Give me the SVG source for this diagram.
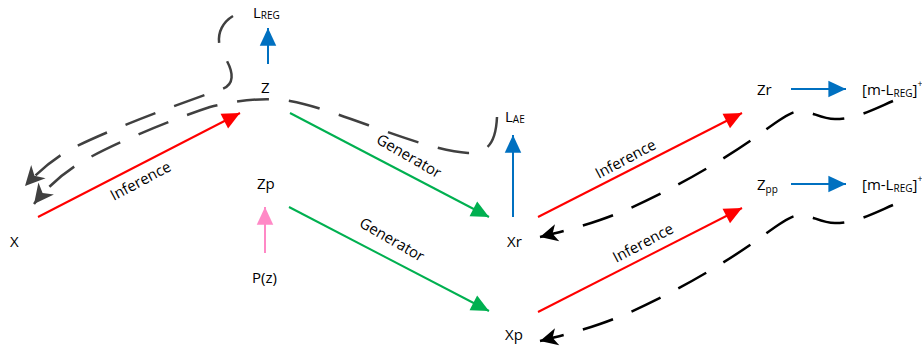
<svg xmlns="http://www.w3.org/2000/svg" width="922" height="352" viewBox="0 0 922 352">
<style>
text{font-family:"Open Sans","Liberation Sans",sans-serif;font-size:15px;fill:#000}
.sub{font-size:10px}
.ln{fill:none;stroke-width:2}
.red{stroke:#FF0000}
.grn{stroke:#00B050}
.blu{stroke:#0070C0}
.pnk{stroke:#FF89C6}
.dg{fill:none;stroke:#404040;stroke-width:2.5;stroke-dasharray:32 20}
.dk{fill:none;stroke:#000;stroke-width:2.5;stroke-dasharray:32 20}
</style>
<defs>
<marker id="hr" markerUnits="userSpaceOnUse" markerWidth="20" markerHeight="20" viewBox="-16 -8 17 16" refX="0" refY="0" orient="auto"><path d="M0,0 L-15,-7 L-15,7 Z" fill="#FF0000"/></marker>
<marker id="hg" markerUnits="userSpaceOnUse" markerWidth="20" markerHeight="20" viewBox="-16 -8 17 16" refX="0" refY="0" orient="auto"><path d="M0,0 L-15,-7 L-15,7 Z" fill="#00B050"/></marker>
<marker id="hb" markerUnits="userSpaceOnUse" markerWidth="20" markerHeight="20" viewBox="-16 -8 17 16" refX="0" refY="0" orient="auto"><path d="M0,0 L-15,-7 L-15,7 Z" fill="#0070C0"/></marker>
<marker id="hp" markerUnits="userSpaceOnUse" markerWidth="20" markerHeight="20" viewBox="-16 -8 17 16" refX="0" refY="0" orient="auto"><path d="M0,0 L-15,-7 L-15,7 Z" fill="#FF89C6"/></marker>
<marker id="sg" markerUnits="userSpaceOnUse" markerWidth="22" markerHeight="22" viewBox="-18 -9 19 18" refX="0" refY="0" orient="auto"><path d="M0,0 L-17,-8.5 L-12,0 L-17,8.5 Z" fill="#404040"/></marker>
<marker id="sk" markerUnits="userSpaceOnUse" markerWidth="20" markerHeight="20" viewBox="-16 -8 17 16" refX="0" refY="0" orient="auto"><path d="M0,0 L-15,-7.5 L-11,0 L-15,7.5 Z" fill="#000"/></marker>
</defs>

<g id="connectors">
<line class="ln red" x1="38" y1="217" x2="240" y2="113" marker-end="url(#hr)"/>
<line class="ln red" x1="538" y1="217" x2="742" y2="113" marker-end="url(#hr)"/>
<line class="ln red" x1="538" y1="312" x2="742" y2="208" marker-end="url(#hr)"/>
<line class="ln grn" x1="290" y1="113" x2="489" y2="217" marker-end="url(#hg)"/>
<line class="ln grn" x1="289" y1="207" x2="489" y2="311" marker-end="url(#hg)"/>
<line class="ln pnk" x1="265" y1="253" x2="265" y2="207" marker-end="url(#hp)"/>
<line class="ln blu" x1="268" y1="64" x2="268" y2="28" marker-end="url(#hb)"/>
<line class="ln blu" x1="513" y1="217" x2="513" y2="135" marker-end="url(#hb)"/>
<line class="ln blu" x1="791" y1="89" x2="846" y2="89" marker-end="url(#hb)"/>
<line class="ln blu" x1="791" y1="184" x2="846" y2="184" marker-end="url(#hb)"/>
<path class="dg" d="M233,16 C218,25 215,42 224,56 C233,70 236,84 222,89 C190,100 120,125 75,147 C55,157 38,172 25,186" marker-end="url(#sg)"/>
<path class="dg" d="M497,117 C496,140 490,153 468,153 C420,150 340,110 290,101 C265,97 238,100 210,107 C170,120 110,145 80,163 C60,175 45,190 34,204" marker-end="url(#sg)"/>
<path class="dk" d="M893,101 C870,111 855,119 835,119 C820,119 812,111 800,111 C790,111 775,123 760,134 C720,163 650,203 600,220 C580,227 560,232 540,237" marker-end="url(#sk)"/>
<path class="dk" d="M893,205 C870,215 855,223 835,223 C820,223 812,215 800,215 C790,215 775,227 760,238 C720,267 650,307 600,324 C580,331 560,336 540,341" marker-end="url(#sk)"/>
<text transform="translate(143,185.5) rotate(-28)" text-anchor="middle">Inference</text>
<text transform="translate(628,163.5) rotate(-28)" text-anchor="middle">Inference</text>
<text transform="translate(645.5,247.5) rotate(-28)" text-anchor="middle">Inference</text>
<text transform="translate(406.5,160.5) rotate(30)" text-anchor="middle">Generator</text>
<text transform="translate(389.5,244) rotate(30)" text-anchor="middle">Generator</text>
</g>

<g id="X"><text x="10" y="247">X</text></g>
<g id="Z"><text x="261" y="93">Z</text></g>
<g id="Zp"><text x="257" y="189">Zp</text></g>
<g id="Pz"><text x="252" y="283">P(z)</text></g>
<g id="LREG"><text x="253" y="18">L<tspan class="sub" dy="1">REG</tspan></text></g>
<g id="LAE"><text x="505" y="122">L<tspan class="sub" dy="1">AE</tspan></text></g>
<g id="Xr"><text x="507" y="247">Xr</text></g>
<g id="Xp"><text x="505" y="340">Xp</text></g>
<g id="Zr"><text x="757" y="95">Zr</text></g>
<g id="Zpp"><text x="757" y="190">Z<tspan class="sub" dy="3">pp</tspan></text></g>
<g id="mLREG1"><text x="862" y="95">[m-L<tspan class="sub" dy="2">REG</tspan><tspan dy="-2">]</tspan><tspan font-size="9" dy="-8">+</tspan></text></g>
<g id="mLREG2"><text x="862" y="190">[m-L<tspan class="sub" dy="2">REG</tspan><tspan dy="-2">]</tspan><tspan font-size="9" dy="-8">+</tspan></text></g>
</svg>
